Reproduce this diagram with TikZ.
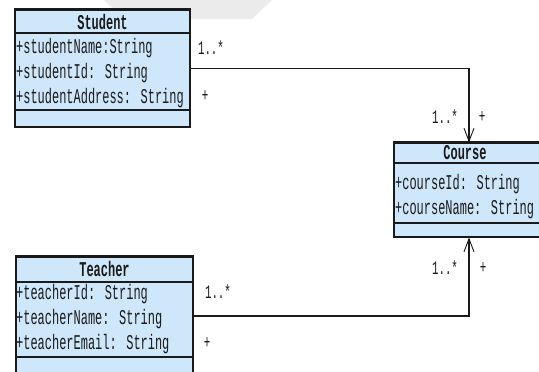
\documentclass[tikz,border=0pt]{standalone}
\usepackage{fontspec}
\newfontfamily\umlfont[FakeStretch=0.57]{Liberation Mono}
\usetikzlibrary{arrows.meta}
\definecolor{classfill}{HTML}{CFE7FB}
\definecolor{ink}{HTML}{1A1A1A}
\tikzset{
  classbox/.style={draw=ink, line width=1.1pt, fill=classfill, inner sep=0pt},
  topedge/.style={draw=ink, line width=2.4pt},
  sepline/.style={draw=ink, line width=1.3pt},
  title/.style={font=\umlfont\fontsize{21}{21}\selectfont\bfseries, inner sep=0pt, text=ink},
  attr/.style={font=\umlfont\fontsize{21}{21}\selectfont, inner sep=0pt, anchor=base west, text=ink},
  mult/.style={font=\umlfont\fontsize{19}{19}\selectfont, inner sep=0pt, text=ink},
  assoc/.style={draw=ink, line width=1.3pt},
  navtip/.style={-{Straight Barb[length=13pt,width=10pt,line width=0.9pt]}}
}
\begin{document}
\begin{tikzpicture}[x=1pt,y=-1pt]
\useasboundingbox (0,0) rectangle (539,372);
\fill[white] (0,0) rectangle (539,372);
% faint banner at the top edge
\fill[black!8] (104,0) -- (272,0) -- (252,19) -- (124,19) -- cycle;

% Student class
\node[classbox, minimum width=175pt, minimum height=117pt] (student) at (102.5,68.5) {};
\draw[topedge] (student.north west) -- (student.north east);
\draw[sepline] (student.west |- 0,33) -- (student.east |- 0,33);
\draw[sepline] (student.west |- 0,110) -- (student.east |- 0,110);
\node[title] (studentT) at (102.5,21.5) {Student};
\node[attr] (s1) at (16,53.5) {+studentName:String};
\node[attr] (s2) at (16,78.5) {+studentId: String};
\node[attr] (s3) at (16,103.5) {+studentAddress: String};

% Course class
\node[classbox, minimum width=150pt, minimum height=94pt] (course) at (469,190) {};
\draw[topedge] (course.north west) -- (course.north east);
\draw[sepline] (course.west |- 0,163) -- (course.east |- 0,163);
\draw[sepline] (course.west |- 0,223) -- (course.east |- 0,223);
\node[title] (courseT) at (465,153) {Course};
\node[attr] (c1) at (395,189.5) {+courseId: String};
\node[attr] (c2) at (395,214.5) {+courseName: String};

% Teacher class
\node[classbox, minimum width=177pt, minimum height=118pt] (teacher) at (104.5,316) {};
\draw[topedge] (teacher.north west) -- (teacher.north east);
\draw[sepline] (teacher.west |- 0,282) -- (teacher.east |- 0,282);
\draw[sepline] (teacher.west |- 0,357) -- (teacher.east |- 0,357);
\node[title] (teacherT) at (104.5,269) {Teacher};
\node[attr] (t1) at (16,299.5) {+teacherId: String};
\node[attr] (t2) at (16,324.5) {+teacherName: String};
\node[attr] (t3) at (16,349.5) {+teacherEmail: String};

% associations
\draw[assoc, navtip] (student.east) -| (course.north);
\draw[assoc, navtip] (teacher.east) -| (course.south);

% multiplicities
\node[mult] (m1) at (211,48) {1..*};
\node[mult] (p1) at (205,96) {+};
\node[mult] (m2) at (445,117) {1..*};
\node[mult] (p2) at (482,117) {+};
\node[mult] (m3) at (445,268) {1..*};
\node[mult] (p3) at (483,268) {+};
\node[mult] (m4) at (218,292) {1..*};
\node[mult] (p4) at (207,343) {+};
\end{tikzpicture}
\end{document}
